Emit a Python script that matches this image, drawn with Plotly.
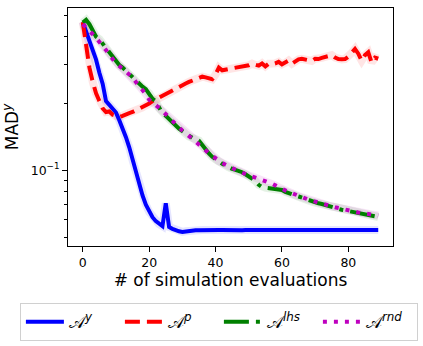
"""Convergence of MAD^y for four sampling strategies."""

import plotly.graph_objects as go

evals = list(range(90))

mad_y = [
    0.465, 0.42, 0.38, 0.35, 0.315, 0.275, 0.245, 0.205, 0.196, 0.189,
    0.182, 0.168, 0.155, 0.141, 0.127, 0.111, 0.097, 0.086, 0.077, 0.070,
    0.065, 0.0615, 0.059, 0.0572, 0.056, 0.071, 0.0555, 0.0545, 0.0537, 0.0531,
    0.0528, 0.0531, 0.0534, 0.0536, 0.0537, 0.0537, 0.0538, 0.0538, 0.0538, 0.0537,
    0.0538, 0.0538, 0.0538, 0.0537, 0.0538, 0.0538, 0.0538, 0.0538, 0.0537, 0.0538,
    0.0538, 0.0538, 0.0538, 0.0538, 0.0537, 0.0538, 0.0538, 0.0538, 0.0538, 0.0538,
    0.0538, 0.0538, 0.0537, 0.0538, 0.0538, 0.0538, 0.0538, 0.0538, 0.0538, 0.0538,
    0.0538, 0.0538, 0.0538, 0.0538, 0.0538, 0.0538, 0.0538, 0.0538, 0.0538, 0.0538,
    0.0538, 0.0538, 0.0538, 0.0538, 0.0538, 0.0538, 0.0538, 0.0538, 0.0538, 0.0538,
]

mad_p = [
    0.465, 0.36, 0.29, 0.25, 0.222, 0.205, 0.19, 0.183, 0.184, 0.178,
    0.175, 0.174, 0.176, 0.179, 0.181, 0.183, 0.186, 0.189, 0.192, 0.196,
    0.200, 0.205, 0.209, 0.212, 0.216, 0.220, 0.224, 0.229, 0.233, 0.237,
    0.241, 0.246, 0.250, 0.254, 0.258, 0.262, 0.264, 0.262, 0.259, 0.257,
    0.270, 0.290, 0.282, 0.283, 0.286, 0.288, 0.290, 0.290, 0.293, 0.295,
    0.297, 0.302, 0.298, 0.296, 0.303, 0.294, 0.302, 0.300, 0.303, 0.308,
    0.300, 0.305, 0.312, 0.302, 0.311, 0.316, 0.318, 0.316, 0.314, 0.311,
    0.318, 0.317, 0.321, 0.324, 0.329, 0.330, 0.322, 0.317, 0.316, 0.317,
    0.325, 0.338, 0.352, 0.335, 0.312, 0.330, 0.340, 0.306, 0.322, 0.318,
]

mad_lhs = [
    0.463, 0.476, 0.455, 0.425, 0.40, 0.39, 0.37, 0.355, 0.34, 0.325,
    0.31, 0.298, 0.29, 0.28, 0.272, 0.262, 0.252, 0.245, 0.238, 0.232,
    0.222, 0.21, 0.205, 0.19, 0.18, 0.176, 0.17, 0.164, 0.158, 0.154,
    0.150, 0.146, 0.142, 0.140, 0.139, 0.136, 0.130, 0.124, 0.119, 0.115,
    0.112, 0.109, 0.107, 0.105, 0.103, 0.1015, 0.1005, 0.0995, 0.098, 0.096,
    0.094, 0.092, 0.0895, 0.086, 0.084, 0.0835, 0.083, 0.083, 0.0828, 0.0823,
    0.0815, 0.080, 0.0788, 0.0778, 0.077, 0.0762, 0.0752, 0.0742, 0.0732, 0.0722,
    0.0715, 0.0710, 0.0705, 0.0698, 0.0688, 0.0678, 0.0672, 0.0668, 0.0664, 0.0660,
    0.0656, 0.0652, 0.0647, 0.0642, 0.0638, 0.0634, 0.0630, 0.0626, 0.0621, 0.0616,
]

mad_rnd = [
    0.455, 0.44, 0.43, 0.41, 0.395, 0.38, 0.365, 0.348, 0.332, 0.315,
    0.303, 0.295, 0.287, 0.278, 0.27, 0.262, 0.25, 0.24, 0.23, 0.22,
    0.208, 0.203, 0.197, 0.191, 0.185, 0.18, 0.173, 0.167, 0.161, 0.156,
    0.151, 0.147, 0.143, 0.139, 0.135, 0.131, 0.127, 0.123, 0.119, 0.116,
    0.113, 0.110, 0.108, 0.106, 0.104, 0.102, 0.1005, 0.099, 0.0975, 0.096,
    0.0948, 0.0937, 0.0927, 0.0917, 0.0907, 0.0897, 0.0885, 0.087, 0.0855, 0.0838,
    0.0822, 0.0812, 0.0800, 0.0788, 0.0776, 0.0766, 0.0756, 0.0746, 0.0738, 0.0730,
    0.0722, 0.0714, 0.0707, 0.0700, 0.0694, 0.0688, 0.0682, 0.0676, 0.0670, 0.0664,
    0.0659, 0.0655, 0.0650, 0.0646, 0.0642, 0.0638, 0.0635, 0.0632, 0.0629, 0.0626,
]

series = [
    ("𝒜<sup><i>y</i></sup>", mad_y, "blue", "rgba(0,0,255,0.10)", "solid"),
    ("𝒜<sup><i>p</i></sup>", mad_p, "red", "rgba(255,0,0,0.10)", "15px,7px"),
    ("𝒜<sup><i>lhs</i></sup>", mad_lhs, "green", "rgba(0,128,0,0.10)", "25px,7px,4px,7px"),
    ("𝒜<sup><i>rnd</i></sup>", mad_rnd, "#bf00bf", "rgba(191,0,191,0.10)", "4px,7px"),
]

fig = go.Figure()

# faint spread band under each curve
for name, vals, color, band, dash in series:
    fig.add_trace(go.Scatter(
        x=evals, y=vals, mode="lines", showlegend=False, hoverinfo="skip",
        line=dict(color=band, width=8),
    ))

for name, vals, color, band, dash in series:
    fig.add_trace(go.Scatter(
        x=evals, y=vals, mode="lines", name=name,
        line=dict(color=color, width=4, dash=dash),
    ))

axis_font = dict(family="DejaVu Sans", size=12.5, color="black")

fig.update_layout(
    width=423,
    height=346,
    margin=dict(l=68, r=30, t=8, b=100, autoexpand=False),
    paper_bgcolor="white",
    plot_bgcolor="white",
    font=dict(family="DejaVu Sans", color="black"),
    xaxis=dict(
        range=[-4.45, 93.45],
        tickvals=[0, 20, 40, 60, 80],
        ticks="outside", ticklen=5, tickcolor="black",
        showline=True, linecolor="black", mirror=True, linewidth=1,
        showgrid=False, zeroline=False,
        tickfont=axis_font,
        title=dict(text="# of simulation evaluations", font=dict(size=17), standoff=4),
    ),
    yaxis=dict(
        type="log",
        range=[-1.341, -0.269],
        tickvals=[0.1], ticktext=["10<sup>−1</sup>"],
        ticks="outside", ticklen=5, tickcolor="black",
        minor=dict(
            tickvals=[0.05, 0.06, 0.07, 0.08, 0.09, 0.2, 0.3, 0.4, 0.5],
            ticks="outside", ticklen=3, tickcolor="black", showgrid=False,
        ),
        showline=True, linecolor="black", mirror=True, linewidth=1,
        showgrid=False, zeroline=False,
        tickfont=axis_font,
        title=dict(text="MAD<sup><i>y</i></sup>", font=dict(size=17), standoff=8),
    ),
    legend=dict(
        orientation="h",
        x=-0.148, xanchor="left",
        y=-0.24, yanchor="top",
        bordercolor="#d0d0d0", borderwidth=1,
        font=dict(size=17),
        entrywidth=46,
        itemwidth=38,
        tracegroupgap=0,
    ),
)

# drop the browser's default page margin so the figure sits at the corner
fig.write_html(
    "out.html",
    config={"displayModeBar": False},
    post_script="document.body.style.margin = '0';",
)
